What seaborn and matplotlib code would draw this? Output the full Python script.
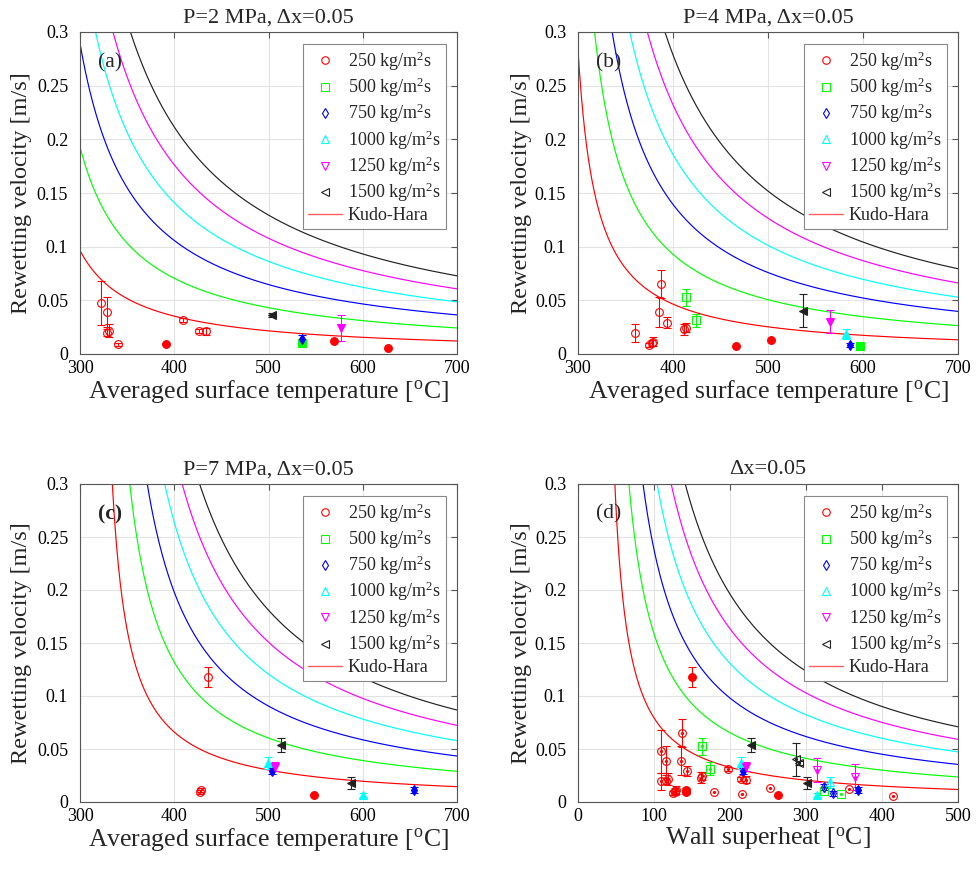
import numpy as np
import pandas as pd
import matplotlib
matplotlib.use("Agg")
import matplotlib.pyplot as plt
import seaborn as sns
from matplotlib.lines import Line2D

# ---------------- data ----------------
G_LIST = [250, 500, 750, 1000, 1250, 1500]
G_COLORS = ["#ff0000", "#00ff00", "#0000ff", "#00ffff", "#ff00ff", "#222222"]
G_MARKERS = ["o", "s", "d", "^", "v", "<"]

TSAT = {2: 212.4, 4: 250.4, 7: 285.8}          # saturation temperature per pressure [C]
KH_COEF = 45.0                                  # Kudo-Hara curve: u = G / (KH_COEF*(dTw - KH_OFFSET))
KH_OFFSET = 30.0

# P = 2 MPa  (T [C], u [m/s], error, filled?)
p2_G = [250, 250, 250, 250, 250, 250, 250, 250, 250, 250, 250, 500, 750, 1250, 1500]
p2_T = [322.0, 328.3, 328.3, 331.1, 340.0, 409.6, 426.6, 433.3, 391.2, 569.5, 627.0, 535.9, 535.9, 577.0, 503.7]
p2_u = [0.0478, 0.0391, 0.0199, 0.0217, 0.0090, 0.0314, 0.0217, 0.0211, 0.0093, 0.0121, 0.0056, 0.0105, 0.0143, 0.0240, 0.0366]
p2_e = [0.0205, 0.0140, 0.0030, 0.0060, 0.0015, 0.0020, 0.0020, 0.0030, 0.0, 0.0, 0.0, 0.0, 0.0030, 0.0123, 0.0020]
p2_f = [0, 0, 0, 0, 0, 0, 0, 0, 1, 1, 1, 1, 1, 1, 1]

# P = 4 MPa
p4_G = [250, 250, 250, 250, 250, 250, 250, 250, 250, 250, 250, 500, 500, 500, 750, 1000, 1250, 1500]
p4_T = [360.0, 375.0, 377.5, 379.3, 387.0, 385.3, 394.0, 411.9, 413.3, 466.3, 503.2, 413.3, 424.2, 596.8, 586.3, 582.1, 565.3, 537.2]
p4_u = [0.0196, 0.0087, 0.0100, 0.0115, 0.0650, 0.0391, 0.0292, 0.0230, 0.0246, 0.0072, 0.0134, 0.0528, 0.0314, 0.0075, 0.0081, 0.0186, 0.0301, 0.0404]
p4_e = [0.0080, 0.0020, 0.0030, 0.0040, 0.0130, 0.0140, 0.0050, 0.0050, 0.0040, 0.0, 0.0, 0.0080, 0.0060, 0.0, 0.0020, 0.0050, 0.0110, 0.0155]
p4_f = [0, 0, 0, 0, 0, 0, 0, 0, 0, 1, 1, 0, 0, 1, 1, 1, 1, 1]

# P = 7 MPa
p7_G = [250, 250, 250, 250, 750, 750, 1000, 1000, 1250, 1500, 1500]
p7_T = [436.2, 427.3, 428.0, 548.6, 503.4, 654.4, 499.8, 600.0, 506.9, 512.9, 587.2]
p7_u = [0.1180, 0.0097, 0.0113, 0.0066, 0.0292, 0.0113, 0.0370, 0.0066, 0.0333, 0.0538, 0.0176]
p7_e = [0.0094, 0.0020, 0.0020, 0.0, 0.0030, 0.0030, 0.0055, 0.0015, 0.0040, 0.0063, 0.0057]
p7_f = [0, 0, 0, 1, 1, 1, 1, 1, 1, 1, 1]

TITLES = ["P=2 MPa, \u0394x=0.05", "P=4 MPa, \u0394x=0.05", "P=7 MPa, \u0394x=0.05", "\u0394x=0.05"]
PANEL_TAGS = ["(a)", "(b)", "(c)", "(d)"]
XLABELS = ["Averaged surface temperature [$^\\mathrm{o}$C]"] * 3 + ["Wall superheat [$^\\mathrm{o}$C]"]
YLABEL = "Rewetting velocity [m/s]"
YTICKS = [0, 0.05, 0.1, 0.15, 0.2, 0.25, 0.3]
YTICKLABELS = ["0", "0.05", "0.1", "0.15", "0.2", "0.25", "0.3"]
XTICKS_T = [300, 400, 500, 600, 700]
XTICKS_DT = [0, 100, 200, 300, 400, 500]

# ---------------- style ----------------
sns.set_theme(style="white")
plt.rcParams["font.family"] = ["Liberation Serif", "DejaVu Serif"]
plt.rcParams["mathtext.fontset"] = "custom"
plt.rcParams["mathtext.rm"] = "Liberation Serif"
plt.rcParams["mathtext.it"] = "Liberation Serif:italic"
plt.rcParams["mathtext.bf"] = "Liberation Serif:bold"

W, H = 979, 875
fig = plt.figure(figsize=(W / 100, H / 100), dpi=100)

def ax_rect(l, r, t, b):
    return [l / W, 1 - b / H, (r - l) / W, (b - t) / H]

axes = [fig.add_axes(ax_rect(80, 457, 32, 354)),
        fig.add_axes(ax_rect(578, 958, 32, 354)),
        fig.add_axes(ax_rect(80, 457, 484, 802)),
        fig.add_axes(ax_rect(578, 958, 484, 802))]

datasets = [(2, p2_G, p2_T, p2_u, p2_e, p2_f),
            (4, p4_G, p4_T, p4_u, p4_e, p4_f),
            (7, p7_G, p7_T, p7_u, p7_e, p7_f)]


def draw_curves(ax, tsat, superheat):
    for G, c in zip(G_LIST, G_COLORS):
        if superheat:
            x = np.linspace(KH_OFFSET + 0.5, 500, 600)
            dT = x
        else:
            x = np.linspace(max(300, tsat + KH_OFFSET + 0.5), 700, 600)
            dT = x - tsat
        u = G / (KH_COEF * (dT - KH_OFFSET))
        df = pd.DataFrame({"x": x, "u": u})
        df = df[df.u < 0.32]
        sns.lineplot(data=df, x="x", y="u", color=c, lw=0.85, ax=ax, legend=False, zorder=2)


def draw_points(ax, G, X, U, E, F, dot=False):
    for g, x, u, e, f in zip(G, X, U, E, F):
        i = G_LIST.index(g)
        c, m = G_COLORS[i], G_MARKERS[i]
        if e > 0:
            ax.errorbar([x], [u], yerr=[e], fmt="none", ecolor=c, elinewidth=0.8,
                        capsize=3, capthick=0.8, zorder=3)
        ms = 6.2 if m in "^v<" else 5.6
        ax.plot([x], [u], ls="none", marker=m, ms=ms, mec=c, mew=0.8,
                mfc=c if f else "none", zorder=4)
        if dot and not f:
            ax.plot([x], [u], ls="none", marker="o", ms=1.3, mec=c, mfc=c, zorder=4)


for k, ax in enumerate(axes):
    if k < 3:
        P, G, X, U, E, F = datasets[k]
        draw_curves(ax, TSAT[P], False)
        draw_points(ax, G, X, U, E, F)
        ax.set_xlim(300, 700)
        ax.set_xticks(XTICKS_T)
    else:
        draw_curves(ax, None, True)
        for P, G, X, U, E, F in datasets:
            dX = [x - TSAT[P] for x in X]
            filled = [1 if P == 7 else 0 for _ in X]
            draw_points(ax, G, dX, U, E, filled, dot=True)
        ax.set_xlim(0, 500)
        ax.set_xticks(XTICKS_DT)
    ax.set_ylim(0, 0.3)
    ax.set_yticks(YTICKS)
    ax.set_yticklabels(YTICKLABELS)
    ax.set_xticklabels([str(t) for t in ax.get_xticks().astype(int)])
    ax.grid(True, color="#e3e3e3", lw=0.8, zorder=0)
    ax.set_axisbelow(True)
    for s in ax.spines.values():
        s.set_color("#555555")
        s.set_linewidth(0.8)
    ax.tick_params(direction="in", top=True, right=True, length=4, width=0.8,
                   color="#555555", labelsize=13, labelcolor="black", pad=4.5)
    ax.tick_params(axis="y", pad=8.5)
    ax.set_title(TITLES[k], fontsize=16, pad=7)
    ax.set_xlabel(XLABELS[k], fontsize=18.5)
    ax.set_ylabel(YLABEL, fontsize=17.5)
    ax.xaxis.set_label_coords(0.5, -0.074)
    ax.yaxis.set_label_coords(-0.127 if k % 2 == 0 else -0.12, 0.5)
    ax.text(0.048, 0.905, PANEL_TAGS[k], transform=ax.transAxes, fontsize=15.5,
            va="center", ha="left", fontweight="bold" if k == 2 else "normal")

    handles = [Line2D([], [], ls="none", marker=m, ms=(6 if m in "^v<" else 5.4), mec=c,
                      mfc="none", mew=0.8)
               for m, c in zip(G_MARKERS, G_COLORS)]
    handles.append(Line2D([], [], color="#ff6060", lw=1.0))
    labels = [f"{g} kg/m$^2$s" for g in G_LIST] + ["Kudo-Hara"]
    leg = ax.legend(handles, labels, loc="upper right", bbox_to_anchor=(0.971, 0.963),
                    borderaxespad=0, frameon=True, fancybox=False, framealpha=1,
                    edgecolor="#888888", fontsize=13, handlelength=1.9,
                    handletextpad=0.3, labelspacing=0.16, borderpad=0.3)
    leg.get_frame().set_linewidth(0.8)
    leg.set_zorder(10)

fig.savefig("out.png", dpi=100)
